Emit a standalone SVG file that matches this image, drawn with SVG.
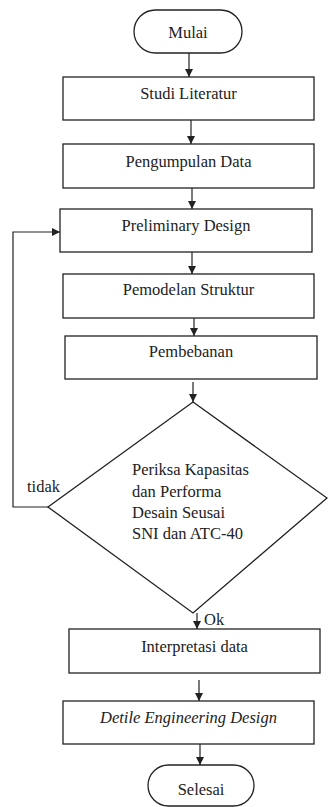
<svg xmlns="http://www.w3.org/2000/svg" width="328" height="807" viewBox="0 0 328 807">
<style>
.s{fill:#fff;stroke:#222;stroke-width:1.3}
.c{fill:none;stroke:#222;stroke-width:1.2}
text{font-family:"Liberation Serif","Times New Roman",serif;font-size:16.5px;fill:#222}
.m{text-anchor:middle}
</style>
<defs>
<marker id="ah" markerUnits="userSpaceOnUse" markerWidth="10" markerHeight="10" refX="8" refY="4" orient="auto">
<path d="M0,0 L8,4 L0,8 Z" fill="#222"/>
</marker>
</defs>
<rect width="328" height="807" fill="#fff"/>
<g id="connectors">
<line class="c" x1="189" y1="53" x2="189" y2="77" marker-end="url(#ah)"/>
<line class="c" x1="191" y1="120" x2="191" y2="144" marker-end="url(#ah)"/>
<line class="c" x1="192" y1="188" x2="192" y2="209" marker-end="url(#ah)"/>
<line class="c" x1="192" y1="252" x2="192" y2="274" marker-end="url(#ah)"/>
<line class="c" x1="194" y1="318" x2="194" y2="336" marker-end="url(#ah)"/>
<line class="c" x1="193" y1="382" x2="193" y2="402" marker-end="url(#ah)"/>
<polyline class="c" points="48,507 13,507 13,232 60,232" marker-end="url(#ah)"/>
<line class="c" x1="197" y1="613" x2="197" y2="629" marker-end="url(#ah)"/>
<line class="c" x1="199" y1="680" x2="199" y2="701" marker-end="url(#ah)"/>
<line class="c" x1="200" y1="744" x2="200" y2="765" marker-end="url(#ah)"/>
<text x="27" y="492">tidak</text>
<text x="204" y="625">Ok</text>
</g>
<g id="mulai"><rect class="s" x="134" y="10" width="108" height="43" rx="21.5"/><text class="m" x="188" y="38">Mulai</text></g>
<g id="studi"><rect class="s" x="63" y="77" width="251" height="43"/><text class="m" x="188.5" y="99">Studi Literatur</text></g>
<g id="pengumpulan"><rect class="s" x="63" y="144" width="251" height="44"/><text class="m" x="188.5" y="167">Pengumpulan Data</text></g>
<g id="preliminary"><rect class="s" x="60" y="209" width="252" height="43"/><text class="m" x="186" y="231">Preliminary Design</text></g>
<g id="pemodelan"><rect class="s" x="63" y="274" width="251" height="44"/><text class="m" x="188.5" y="295">Pemodelan Struktur</text></g>
<g id="pembebanan"><rect class="s" x="65" y="336" width="252" height="43"/><text class="m" x="191" y="357">Pembebanan</text></g>
<g id="periksa"><polygon class="s" points="193,402 327,498 193,613 48,507"/>
<text x="132" y="475">Periksa Kapasitas</text>
<text x="132" y="497">dan Performa</text>
<text x="132" y="518">Desain Seusai</text>
<text x="132" y="539">SNI dan ATC-40</text></g>
<g id="interpretasi"><rect class="s" x="69" y="629" width="251" height="44"/><text class="m" x="194.5" y="652">Interpretasi data</text></g>
<g id="detile"><rect class="s" x="63" y="701" width="251" height="43"/><text class="m" x="188.5" y="723" font-style="italic">Detile Engineering Design</text></g>
<g id="selesai"><rect class="s" x="148" y="765" width="106" height="41" rx="20.5"/><text class="m" x="201" y="795">Selesai</text></g>
</svg>
